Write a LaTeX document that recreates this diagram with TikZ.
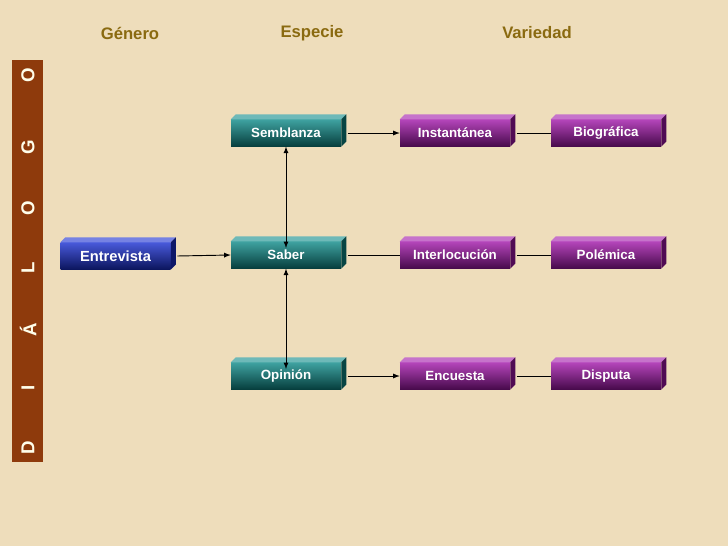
\documentclass[tikz,border=0pt]{standalone}
\usepackage{fontspec}
\setmainfont{Liberation Sans}
\begin{document}
\begin{tikzpicture}[x=0.75pt,y=-0.75pt,
  lbl/.style={font=\bfseries\fontsize{10}{12}\selectfont,text=white,inner sep=0pt,minimum width=82.5pt,minimum height=20pt},
  hdr/.style={font=\bfseries\fontsize{12.5}{14}\selectfont,text=hdrc},
  vl/.style={font=\bfseries\fontsize{14}{16}\selectfont,text=white!92!yellow,rotate=90},
  con/.style={draw=black,line width=0.7pt},
  arr/.style={con,-latex}]
\definecolor{bg}{HTML}{EEDDBB}
\definecolor{hdrc}{HTML}{8A6A10}
\definecolor{bar}{HTML}{8E3A0C}
\definecolor{tealc}{HTML}{0E8A88}
\definecolor{magc}{HTML}{A016A8}
\definecolor{bluec}{HTML}{1A2FD0}
\useasboundingbox (0,0) rectangle (728,546);
\fill[bg] (0,0) rectangle (728,546);
\fill[bar] (12,60) rectangle (43,462);
\newcommand{\bx}[5]{%
  \node[lbl,top color=#5!80!white,bottom color=#5!45!black] (#1) at (#2,#3) {#4};
  \fill[#5!60!white] (#1.north west) -- ++(5,-5) -- ([shift={(5,-5)}]#1.north east) -- (#1.north east) -- cycle;
  \fill[#5!50!black] (#1.north east) -- ++(5,-5) -- ([shift={(5,-5)}]#1.south east) -- (#1.south east) -- cycle;}
\node[hdr] (g) at (130,33) {Género};
\node[hdr] (e) at (312,33) {Especie};
\node[hdr] (v) at (537,33) {Variedad};
\node[vl] (l1) at (28,448) {D};
\node[vl] (l2) at (28,388) {I};
\node[vl] (l3) at (28,330) {Á};
\node[vl] (l4) at (28,268) {L};
\node[vl] (l5) at (28,208) {O};
\node[vl] (l6) at (28,147) {G};
\node[vl] (l7) at (28,75) {O};
\bx{entr}{115.5}{256}{\fontsize{11}{13}\selectfont Entrevista}{bluec}
\bx{semb}{286}{133}{Semblanza}{tealc}
\bx{sab}{286}{255}{Saber}{tealc}
\bx{opi}{286}{376}{Opinión}{tealc}
\bx{inst}{455}{133}{Instantánea}{magc}
\bx{inter}{455}{255}{Interlocución}{magc}
\bx{enc}{455}{376}{Encuesta}{magc}
\bx{bio}{606}{133}{Biográfica}{magc}
\bx{pol}{606}{255}{Polémica}{magc}
\bx{disp}{606}{376}{Disputa}{magc}
\draw[arr] ([xshift=5]entr.east) -- (sab.west);
\draw[arr] ([xshift=5]semb.east) -- (inst.west);
\draw[con] ([xshift=5]sab.east) -- (inter.west);
\draw[arr] ([xshift=5]opi.east) -- (enc.west);
\draw[con] ([xshift=5]inst.east) -- (bio.west);
\draw[con] ([xshift=5]inter.east) -- (pol.west);
\draw[con] ([xshift=5]enc.east) -- (disp.west);
\draw[con,latex-latex] (semb.south) -- ([yshift=-5]sab.north);
\draw[con,latex-latex] (sab.south) -- ([yshift=-5]opi.north);
\end{tikzpicture}
\end{document}
